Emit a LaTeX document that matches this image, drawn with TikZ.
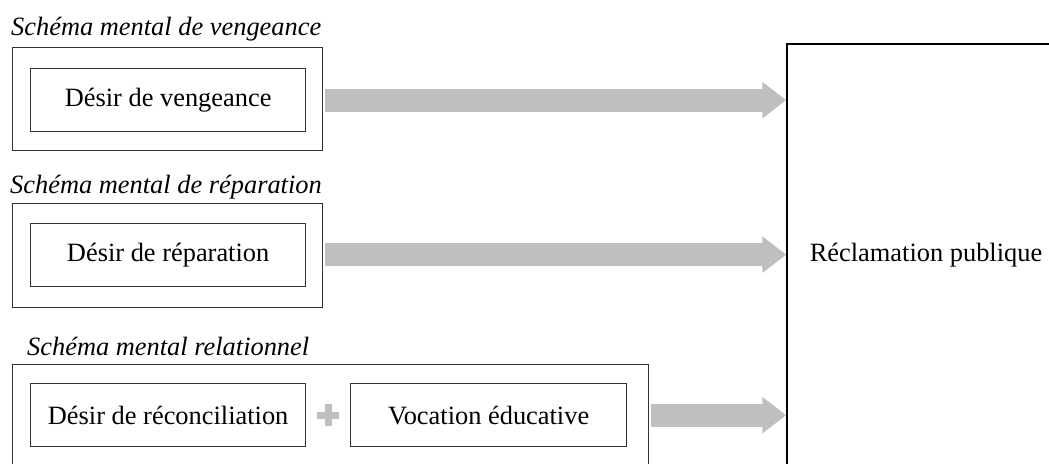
\documentclass[tikz,border=0pt]{standalone}
\usepackage{fontspec}
\setmainfont{Liberation Serif}
\usetikzlibrary{arrows.meta,calc}
\definecolor{arrowgray}{HTML}{BFBFBF}
\definecolor{framegray}{HTML}{333333}
\newcommand{\bodysize}{\fontsize{26.4}{30}\selectfont}
\tikzset{
  innerbox/.style={draw=framegray, line width=1.3pt, minimum width=275pt, minimum height=63pt, inner sep=0pt, anchor=north west},
  outerbox/.style={draw=framegray, line width=1.3pt, inner sep=0pt, anchor=north west},
  title/.style={anchor=base west, inner sep=0pt, font=\bodysize\itshape},
  bigarrow/.style={arrowgray, line width=23pt, -{Triangle[width=35pt,length=24pt]}, shorten <=2pt},
  plus/.style={fill=arrowgray, draw=none},
}
\begin{document}
\begin{tikzpicture}[x=1pt,y=-1pt, font=\bodysize]
\useasboundingbox (0,0) rectangle (1049,463);
\clip (0,0) rectangle (1049,463);
% big box
\node[draw=black, line width=1.4pt, minimum width=278pt, minimum height=422pt, inner sep=0pt] (big) at (926,255) {Réclamation publique};
% schema 1
\node[title] (t1) at (11,35) {Schéma mental de vengeance};
\node[outerbox, minimum width=310pt, minimum height=103pt] (o1) at (12,47) {};
\node[innerbox] (d1) at (30,68) {};
\node (d1t) at (d1.center) {Désir de vengeance};
% schema 2
\node[title] (t2) at (10,193) {Schéma mental de réparation};
\node[outerbox, minimum width=310pt, minimum height=104pt] (o2) at (12,203) {};
\node[innerbox] (d2) at (30,223) {};
\node (d2t) at (d2.center) {Désir de réparation};
% schema 3
\node[title] (t3) at (27,355) {Schéma mental relationnel};
\node[outerbox, minimum width=636pt, minimum height=110pt] (o3) at (12,364) {};
\node[innerbox] (d3) at (30,383) {};
\node (d3t) at (d3.center) {Désir de réconciliation};
\node[innerbox, minimum width=276pt] (v3) at (350,383) {};
\node (v3t) at (v3.center) {Vocation éducative};
% plus sign
\coordinate (pl) at ($(d3.east)!0.5!(v3.west)$);
\fill[plus] ($(pl)+(-11,-3.5)$) rectangle ($(pl)+(11,3.5)$);
\fill[plus] ($(pl)+(-3.5,-11)$) rectangle ($(pl)+(3.5,11)$);
% arrows
\draw[bigarrow] ($(o1.east)+(0,1)$) -- ($(o1.east -| big.west)+(0,1)$);
\draw[bigarrow] ($(o2.east)+(0,-1)$) -- ($(o2.east -| big.west)+(0,-1)$);
\draw[bigarrow] (v3.east -| o3.east) -- (v3.east -| big.west);
\end{tikzpicture}
\end{document}
